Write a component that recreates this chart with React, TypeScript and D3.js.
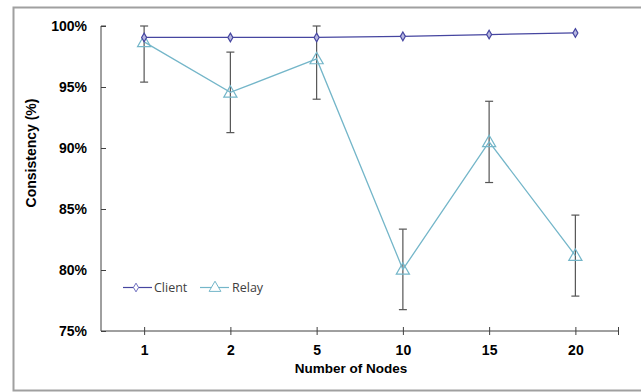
import React, { useEffect, useRef } from 'react';
import * as d3 from 'd3';

const categories = ['1', '2', '5', '10', '15', '20'];
const clientValues = [99.06, 99.06, 99.06, 99.15, 99.3, 99.43];
const relayValues = [98.7, 94.56, 97.3, 80.05, 90.5, 81.18];
const relayErrors = [3.3, 3.3, 3.3, 3.3, 3.33, 3.32];
const yTicks = [75, 80, 85, 90, 95, 100];

const clientColor = '#4646a0';
const relayColor = '#74b6c9';
const axisColor = '#404040';

const App = () => {
  const svgRef = useRef<SVGSVGElement>(null);

  useEffect(() => {
    const svg = d3.select(svgRef.current);
    svg.selectAll('*').remove();

    const left = 101, right = 618.5, top = 26, bottom = 331;

    const x = d3.scalePoint<string>().domain(categories).range([left, right]).padding(0.5);
    const y = d3.scaleLinear().domain([75, 100]).range([bottom, top]);

    // frame
    svg.append('rect')
      .attr('x', 13.5).attr('y', 7.5).attr('width', 640).attr('height', 383)
      .attr('fill', 'white').attr('stroke', '#a0a0a0').attr('stroke-width', 2);

    // y axis, ticks on the inside
    const yAxis = svg.append('g').attr('transform', `translate(${left},0)`)
      .call(d3.axisRight(y).tickValues(yTicks).tickSize(5).tickFormat((d) => `${d}%`));
    yAxis.select('.domain').attr('stroke', axisColor).attr('d', `M5,${top}H0V${bottom}`);
    yAxis.selectAll('.tick line').attr('stroke', axisColor);
    yAxis.selectAll('.tick text')
      .attr('x', -14).attr('text-anchor', 'end')
      .attr('font-family', 'Liberation Sans, Arial, sans-serif')
      .attr('font-weight', 'bold').attr('font-size', 14).attr('fill', '#000');

    // x axis
    const xAxis = svg.append('g').attr('transform', `translate(0,${bottom})`)
      .call(d3.axisBottom(x).tickSize(4).tickSizeOuter(0));
    xAxis.select('.domain').attr('stroke', axisColor).attr('d', `M${left},0H${right}`);
    xAxis.selectAll('.tick line').attr('stroke', axisColor).attr('y1', -4).attr('y2', 4);
    xAxis.selectAll('.tick text')
      .attr('y', 14)
      .attr('font-family', 'Liberation Sans, Arial, sans-serif')
      .attr('font-weight', 'bold').attr('font-size', 14).attr('fill', '#000');
    xAxis.append('line')
      .attr('x1', right).attr('x2', right).attr('y1', -4).attr('y2', 4)
      .attr('stroke', axisColor);

    // axis titles
    svg.append('text')
      .attr('x', 351).attr('y', 373)
      .attr('text-anchor', 'middle')
      .attr('font-family', 'Liberation Sans, Arial, sans-serif')
      .attr('font-weight', 'bold').attr('font-size', 13.5)
      .text('Number of Nodes');

    svg.append('text')
      .attr('transform', 'translate(36,153) rotate(-90)')
      .attr('text-anchor', 'middle')
      .attr('font-family', 'Liberation Sans, Arial, sans-serif')
      .attr('font-weight', 'bold').attr('font-size', 14)
      .text('Consistency (%)');

    // error bars for relay (clipped at the axis max)
    const eb = svg.append('g').attr('stroke', '#555').attr('stroke-width', 1.2);
    categories.forEach((c, i) => {
      const cx = x(c)!;
      const hi = Math.min(100, relayValues[i] + relayErrors[i]);
      const lo = Math.max(75, relayValues[i] - relayErrors[i]);
      eb.append('line').attr('x1', cx).attr('x2', cx).attr('y1', y(hi)).attr('y2', y(lo));
      eb.append('line').attr('x1', cx - 4).attr('x2', cx + 4).attr('y1', y(hi)).attr('y2', y(hi));
      eb.append('line').attr('x1', cx - 4).attr('x2', cx + 4).attr('y1', y(lo)).attr('y2', y(lo));
    });

    const line = d3.line<number>()
      .x((_, i) => x(categories[i])!)
      .y((d) => y(d));

    // relay series
    svg.append('path').datum(relayValues)
      .attr('d', line).attr('fill', 'none')
      .attr('stroke', relayColor).attr('stroke-width', 1.3);
    const tri = d3.symbol().type(d3.symbolTriangle).size(75);
    svg.append('g').selectAll('path').data(relayValues).join('path')
      .attr('transform', (d, i) => `translate(${x(categories[i])},${y(d) + 1})`)
      .attr('d', tri()).attr('fill', 'none')
      .attr('stroke', relayColor).attr('stroke-width', 1.2);

    // client series
    svg.append('path').datum(clientValues)
      .attr('d', line).attr('fill', 'none')
      .attr('stroke', clientColor).attr('stroke-width', 1.3);
    const dia = d3.symbol().type(d3.symbolDiamond).size(22);
    svg.append('g').selectAll('path').data(clientValues).join('path')
      .attr('transform', (d, i) => `translate(${x(categories[i])},${y(d)})`)
      .attr('d', dia()).attr('fill', '#b8b8e0')
      .attr('stroke', clientColor).attr('stroke-width', 1.2);

    // legend
    const legend = svg.append('g')
      .attr('font-family', 'Open Sans, sans-serif')
      .attr('font-size', 12.5).attr('fill', '#404040');
    legend.append('line').attr('x1', 123).attr('x2', 152).attr('y1', 287.5).attr('y2', 287.5)
      .attr('stroke', clientColor).attr('stroke-width', 1.2);
    legend.append('path').attr('transform', 'translate(136,287.5)')
      .attr('d', d3.symbol().type(d3.symbolDiamond).size(22)()).attr('fill', 'white')
      .attr('stroke', '#7070c0');
    legend.append('text').attr('x', 154).attr('y', 292).text('Client');
    legend.append('line').attr('x1', 200).attr('x2', 229).attr('y1', 287.5).attr('y2', 287.5)
      .attr('stroke', relayColor).attr('stroke-width', 1.2);
    legend.append('path').attr('transform', 'translate(215,288)')
      .attr('d', d3.symbol().type(d3.symbolTriangle).size(60)()).attr('fill', 'white')
      .attr('stroke', relayColor);
    legend.append('text').attr('x', 232).attr('y', 292).text('Relay');
  }, []);

  return (
    <svg width={641} height={392} ref={svgRef}
      style={{ position: 'absolute', left: 0, top: 0 }} />
  );
};

export default App;
